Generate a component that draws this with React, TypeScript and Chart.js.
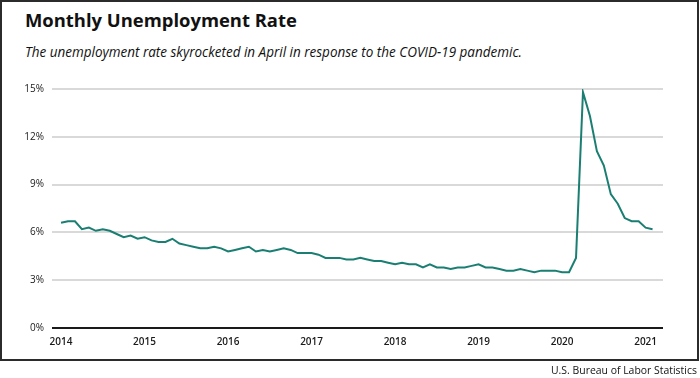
import React, { useEffect, useLayoutEffect, useRef, useState } from "react";
import { Chart, registerables } from "chart.js";

Chart.register(...registerables);

// Monthly unemployment rate (%), Jan 2014 – Feb 2021
const rates2014 = [6.6, 6.7, 6.7, 6.2, 6.3, 6.1, 6.2, 6.1, 5.9, 5.7, 5.8, 5.6];
const rates2015 = [5.7, 5.5, 5.4, 5.4, 5.6, 5.3, 5.2, 5.1, 5.0, 5.0, 5.1, 5.0];
const rates2016 = [4.8, 4.9, 5.0, 5.1, 4.8, 4.9, 4.8, 4.9, 5.0, 4.9, 4.7, 4.7];
const rates2017 = [4.7, 4.6, 4.4, 4.4, 4.4, 4.3, 4.3, 4.4, 4.3, 4.2, 4.2, 4.1];
const rates2018 = [4.0, 4.1, 4.0, 4.0, 3.8, 4.0, 3.8, 3.8, 3.7, 3.8, 3.8, 3.9];
const rates2019 = [4.0, 3.8, 3.8, 3.7, 3.6, 3.6, 3.7, 3.6, 3.5, 3.6, 3.6, 3.6];
const rates2020 = [3.5, 3.5, 4.4, 14.8, 13.3, 11.1, 10.2, 8.4, 7.8, 6.9, 6.7, 6.7];
const rates2021 = [6.3, 6.2];

const yearLabels = ["2014", "2015", "2016", "2017", "2018", "2019", "2020", "2021"];
const yTickValues = [0, 3, 6, 9, 12, 15];

const TITLE = "Monthly Unemployment Rate";
const SUBTITLE = "The unemployment rate skyrocketed in April in response to the COVID-19 pandemic.";
const SOURCE = "U.S. Bureau of Labor Statistics";

const allRates = [
  ...rates2014, ...rates2015, ...rates2016, ...rates2017,
  ...rates2018, ...rates2019, ...rates2020, ...rates2021,
];

function FitText(props: { text: string; width: number; style: React.CSSProperties; align?: "left" | "right" }) {
  const ref = useRef<HTMLSpanElement>(null);
  const [scale, setScale] = useState(1);
  useLayoutEffect(() => {
    const measure = () => {
      if (ref.current) {
        const w = ref.current.offsetWidth;
        if (w > 0) setScale(props.width / w);
      }
    };
    measure();
    if ((document as any).fonts && (document as any).fonts.ready) {
      (document as any).fonts.ready.then(measure);
    }
  }, [props.text, props.width]);
  return (
    <span
      ref={ref}
      style={{
        ...props.style,
        position: "absolute",
        whiteSpace: "nowrap",
        display: "inline-block",
        transform: `scaleX(${scale})`,
        transformOrigin: props.align === "right" ? "right top" : "left top",
      }}
    >
      {props.text}
    </span>
  );
}

export default function App() {
  const canvasRef = useRef<HTMLCanvasElement>(null);

  useEffect(() => {
    document.body.style.margin = "0";
    const canvas = canvasRef.current;
    if (!canvas) return;
    const points = allRates.map((v, i) => ({ x: i, y: v }));
    const chart = new Chart(canvas, {
      type: "line",
      data: {
        datasets: [
          {
            data: points,
            borderColor: "#1a7f72",
            borderWidth: 2,
            pointRadius: 0,
            tension: 0,
            fill: false,
          },
        ],
      },
      options: {
        animation: false,
        responsive: false,
        devicePixelRatio: 1,
        layout: { padding: { top: 89, right: 37, left: 0, bottom: 0 } },
        plugins: { legend: { display: false }, tooltip: { enabled: false }, title: { display: false } },
        scales: {
          x: {
            type: "linear",
            min: -1.3,
            max: 86.5,
            grid: { display: false, drawTicks: false },
            border: { display: false },
            afterBuildTicks: (scale: any) => {
              scale.ticks = yearLabels.map((_, i) => ({ value: i * 12 }));
            },
            afterFit: (scale: any) => {
              scale.height = 50;
            },
            ticks: {
              padding: 8,
              maxRotation: 0,
              autoSkip: false,
              color: "#1a1a1a",
              font: { family: "'Open Sans', sans-serif", size: 10, weight: "600" },
              callback: (v: any) => yearLabels[Math.round(Number(v) / 12)] ?? "",
            },
          },
          y: {
            min: 0,
            max: 15,
            afterBuildTicks: (scale: any) => {
              scale.ticks = yTickValues.map((v) => ({ value: v }));
            },
            afterFit: (scale: any) => {
              scale.width = 52;
            },
            grid: {
              drawTicks: false,
              lineWidth: 2,
              color: (ctx: any) => (ctx.tick && ctx.tick.value === 0 ? "#1a1a1a" : "#d9d9d9"),
            },
            border: { display: false },
            ticks: {
              padding: 8,
              color: "#1a1a1a",
              font: { family: "'Open Sans', sans-serif", size: 10 },
              callback: (v: any) => `${v}%`,
            },
          },
        },
      },
    } as any);
    return () => chart.destroy();
  }, []);

  return (
    <div style={{ position: "relative", width: 700, height: 378, background: "#fff", overflow: "hidden" }}>
      <div
        style={{
          position: "absolute",
          left: 0,
          top: 0,
          width: 699,
          height: 361,
          border: "2px solid #2b2b2b",
          boxSizing: "border-box",
        }}
      />
      <FitText
        text={TITLE}
        width={272}
        style={{
          left: 25,
          top: 11,
          fontFamily: "'Open Sans', sans-serif",
          fontWeight: 700,
          fontSize: 18,
          lineHeight: "18px",
          color: "#111",
        }}
      />
      <FitText
        text={SUBTITLE}
        width={497}
        style={{
          left: 25,
          top: 44.5,
          fontFamily: "'Open Sans', sans-serif",
          fontStyle: "italic",
          fontSize: 14,
          lineHeight: "14px",
          color: "#111",
        }}
      />
      <canvas
        ref={canvasRef}
        width={700}
        height={378}
        style={{ position: "absolute", left: 0, top: 0, width: 700, height: 378 }}
      />
      <FitText
        text={SOURCE}
        width={146}
        align="right"
        style={{
          right: 3,
          top: 364,
          fontFamily: "'Open Sans', sans-serif",
          fontSize: 11,
          lineHeight: "11px",
          color: "#111",
        }}
      />
    </div>
  );
}
